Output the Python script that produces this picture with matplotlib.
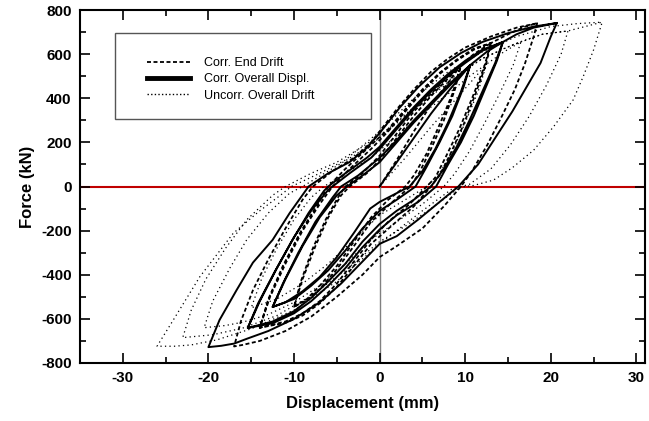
import numpy as np
import matplotlib
matplotlib.use("Agg")
import matplotlib.pyplot as plt
from matplotlib.lines import Line2D
from matplotlib.patches import Rectangle
from matplotlib.ticker import MultipleLocator

plt.rcParams['font.family'] = ['Liberation Sans', 'DejaVu Sans']
plt.rcParams['axes.unicode_minus'] = False

# ---------------- data (displacement mm, force kN) ----------------
series_labels = ["Corr. End Drift", "Corr. Overall Displ.", "Uncorr. Overall Drift"]

overall_pts = [
    (0, 0), (2, 110), (4, 220), (6, 330), (8, 430), (10.6, 551),
    (9.5, 430), (8, 290), (6.5, 170), (5, 70), (3.5, 0), (1.5, -40), (0, -70), (-1.1, -100),
    (-3, -210), (-5, -320), (-7, -410), (-9, -475), (-11, -525), (-12.5, -546),
    (-11, -420), (-9, -270), (-7, -140), (-5, -40), (-3.8, 0), (-2, 50), (0, 110), (2, 200),
    (4, 290), (6, 370), (8, 450), (10.6, 551),
    (9.8, 450), (8.5, 320), (7, 200), (5.5, 90), (4.2, 0), (2, -60), (0, -110), (-2, -190),
    (-4, -290), (-6, -380), (-8, -450), (-10, -510), (-12.5, -546),
    (-11.3, -440), (-9.5, -300), (-7.5, -160), (-5.5, -50), (-4.5, 0), (-2.5, 50), (0, 130),
    (2, 210), (4, 300), (6, 380), (8, 460), (10.6, 551), (12.5, 610), (14.4, 655),
    (13.5, 560), (12, 430), (10.5, 300), (9, 180), (7.5, 80), (6, 0), (4, -60), (2, -110),
    (0, -170), (-2, -250), (-4, -350), (-6, -430), (-8, -505), (-10, -565), (-12.5, -612),
    (-15.4, -641),
    (-14, -520), (-12, -370), (-10, -230), (-8, -110), (-6, -15), (-5.5, 0), (-3.5, 60),
    (-1, 130), (0, 170), (2, 260), (4, 350), (6, 430), (8, 500), (10, 560), (12, 615), (14.4, 655),
    (13.7, 570), (12.4, 450), (11, 320), (9.5, 200), (8, 100), (6.6, 0), (4.5, -70), (2, -130),
    (0, -195), (-2, -275), (-4, -370), (-6, -450), (-8, -520), (-10, -575), (-12.5, -620),
    (-15.4, -641),
    (-14.2, -530), (-12.3, -390), (-10.3, -250), (-8.3, -120), (-6.5, -20), (-6, 0), (-4, 60),
    (-1.5, 130), (0, 180), (2, 270), (4, 360), (6, 440), (8, 510), (10, 570), (12, 620),
    (14.4, 655), (16, 690), (18, 720), (20.7, 741),
    (20, 680), (18.8, 560), (17, 440), (15.5, 340), (13.5, 220), (11.5, 100), (9.2, 0), (7, -70),
    (4.5, -150), (2, -225), (0, -260), (-2, -340), (-4.5, -440), (-7, -525), (-10, -600),
    (-13, -655), (-15.5, -690), (-17, -712), (-18.5, -722), (-20, -728),
    (-18.7, -605), (-16.7, -469), (-14.8, -345), (-12.5, -242), (-10.5, -120), (-8.3, 0),
    (-6, 60), (-3.5, 111), (-1.5, 175), (0, 242), (2.4, 360), (4.5, 450), (7, 540), (9.5, 605),
    (12, 655), (15, 695), (18, 725), (20.7, 741),
]

end_drift_pts = [
    (0, 0), (2, 120), (4, 250), (6, 370), (8, 470), (9.5, 550),
    (8.5, 420), (7, 280), (5.5, 150), (4, 50), (3, 0), (1, -60), (-1, -140), (-3, -250),
    (-5, -360), (-7, -450), (-8.5, -510), (-10, -545),
    (-9, -420), (-7.5, -270), (-6, -140), (-4.5, -40), (-3.5, 0), (-1.5, 60), (0, 120),
    (2, 220), (4, 320), (6, 410), (8, 490), (9.5, 550),
    (8.8, 440), (7.5, 300), (6, 170), (4.6, 60), (3.6, 0), (1.5, -70), (-1, -160), (-3, -270),
    (-5, -375), (-7, -465), (-8.5, -515), (-10, -545),
    (-9.2, -430), (-7.8, -280), (-6.3, -150), (-4.8, -45), (-4, 0), (-2, 60), (0, 140),
    (2, 240), (4, 340), (6, 420), (8, 500), (9.5, 550), (11, 600), (13, 650),
    (12.2, 540), (10.8, 400), (9.3, 260), (7.8, 140), (6.5, 40), (5.5, 0), (3.5, -80),
    (1, -160), (-1, -240), (-3, -340), (-5, -440), (-7, -520), (-9, -575), (-11, -612), (-14, -640),
    (-12.8, -500), (-11, -350), (-9, -200), (-7, -80), (-5.5, 0), (-3.5, 80), (-1, 170),
    (1, 250), (3, 340), (5, 430), (7, 510), (9, 570), (11, 620), (13, 650),
    (12.4, 550), (11.2, 420), (9.8, 280), (8.3, 150), (7, 50), (6, 0), (4, -90), (1.5, -175),
    (-1, -260), (-3, -360), (-5, -455), (-7, -530), (-9, -585), (-11, -618), (-14, -640),
    (-13, -510), (-11.3, -360), (-9.3, -210), (-7.4, -90), (-6, 0), (-4, 80), (-1.5, 170),
    (1, 260), (3, 350), (5, 440), (7, 515), (9, 575), (11, 625), (13, 650),
    (15, 690), (17, 725), (18.4, 740),
    (18, 680), (17, 560), (15.8, 440), (14.3, 320), (12.6, 190), (10.8, 70), (9.5, 0),
    (7.5, -90), (5, -190), (2, -270), (0, -320), (-2, -400), (-5, -500), (-8, -590),
    (-11, -655), (-14, -700), (-16, -718), (-17, -725),
    (-16.2, -610), (-14.8, -470), (-13, -330), (-11, -190), (-9, -60), (-7.8, 0), (-5.5, 70),
    (-3, 130), (-1, 200), (0, 250), (2, 350), (4, 440), (6, 520), (8, 580), (10, 630),
    (13, 680), (16, 720), (18.4, 740),
]

uncorr_pts = [
    (0, 0), (3, 130), (6, 270), (9, 400), (12.5, 555),
    (11.5, 430), (10, 290), (8.5, 160), (7, 60), (5.5, 0), (3, -60), (0, -130), (-3, -240),
    (-6, -350), (-9, -440), (-12, -510), (-15, -550),
    (-13.8, -420), (-12, -280), (-10, -150), (-8, -50), (-6.5, 0), (-4, 60), (-1, 130),
    (2, 230), (5, 330), (8, 420), (10.5, 500), (12.5, 555), (14.5, 610), (16.5, 655),
    (15.6, 550), (14, 420), (12.3, 290), (10.5, 160), (8.8, 60), (7.5, 0), (5, -80), (2, -160),
    (-1, -240), (-4, -350), (-7, -450), (-10, -525), (-13, -580), (-16, -615), (-18, -630),
    (-20.5, -640),
    (-19.5, -520), (-17.5, -370), (-15.5, -240), (-13, -120), (-10.5, -30), (-9, 0), (-6, 70),
    (-3, 140), (0, 220), (3, 320), (6, 410), (9, 500), (12, 580), (14.5, 625), (16.5, 655),
    (19, 690), (22, 705),
    (21.2, 600), (19.5, 460), (17.5, 320), (15.3, 190), (13, 80), (10.5, 10), (9.5, 0),
    (6, -100), (3, -180), (0, -250), (-4, -380), (-8, -495), (-12, -585), (-16, -642),
    (-19.5, -672), (-23, -685),
    (-22, -560), (-20.3, -420), (-18, -280), (-15.5, -150), (-12.5, -40), (-11, 0), (-8, 60),
    (-5, 110), (-2, 180), (1, 260), (4, 360), (8, 480), (12, 580), (16, 650), (19, 690),
    (22, 705), (24, 725), (26, 745),
    (25, 620), (23.8, 500), (22.6, 392), (20.3, 270), (18, 165), (15.5, 85), (13.3, 29),
    (11, 5), (8.6, -7), (5, -110), (2, -200), (0, -260), (-5, -430), (-10, -560), (-15, -645),
    (-19, -695), (-22, -718), (-24, -724), (-26, -724),
    (-24.1, -605), (-21, -409), (-17.1, -212), (-14, -110), (-11.6, -40), (-10.3, 0), (-7, 60),
    (-4, 120), (0, 250), (4, 400), (8, 520), (12, 610), (16, 680), (20, 725), (23, 738),
    (26, 745),
]

x_ticks = [-30, -20, -10, 0, 10, 20, 30]
y_ticks = [-800, -600, -400, -200, 0, 200, 400, 600, 800]

# ---------------- figure ----------------
fig = plt.figure(figsize=(6.49, 4.21), dpi=100)
ax = fig.add_axes([80 / 649, 58 / 421, 565 / 649, 353 / 421])

ax.axhline(0, color="#c00000", lw=1.5, zorder=1)
ax.axvline(0, color="#808080", lw=1.0, zorder=1)

ux, uy = np.array(uncorr_pts).T
ex, ey = np.array(end_drift_pts).T
ox, oy = np.array(overall_pts).T

ax.plot(ux, uy, color="black", lw=0.9, linestyle=(0, (1, 2.6)), zorder=2)
ax.plot(ex, ey, color="black", lw=1.3, linestyle=(0, (2.2, 1.4)), zorder=3)
ax.plot(ox, oy, color="black", lw=1.4, linestyle="-", zorder=4)

ax.set_xlim(-35, 31)
ax.set_ylim(-800, 800)
ax.set_xticks(x_ticks)
ax.set_yticks(y_ticks)
ax.xaxis.set_minor_locator(MultipleLocator(5))
ax.yaxis.set_minor_locator(MultipleLocator(100))
ax.tick_params(which="both", direction="in", top=True, right=True,
               labeltop=False, labelright=False, width=1.2, color="black")
ax.tick_params(which="major", length=7, labelsize=11, pad=6)
ax.tick_params(which="minor", length=4)
for lab in ax.get_xticklabels() + ax.get_yticklabels():
    lab.set_fontweight("bold")
for s in ax.spines.values():
    s.set_linewidth(1.5)

ax.set_xlabel("Displacement (mm)", fontsize=12, fontweight="bold", labelpad=8)
ax.set_ylabel("Force (kN)", fontsize=12, fontweight="bold", labelpad=4)

# legend box
ax.add_patch(Rectangle((0.062, 0.691), 0.453, 0.244, transform=ax.transAxes,
                       fill=True, facecolor="white", edgecolor="#555555", lw=1.0, zorder=5))
handles = [
    Line2D([], [], color="black", lw=1.3, linestyle=(0, (2.2, 1.4))),
    Line2D([], [], color="black", lw=3.5, linestyle="-"),
    Line2D([], [], color="black", lw=1.0, linestyle=(0, (1, 1.6))),
]
leg = ax.legend(handles, series_labels, loc="upper left", bbox_to_anchor=(0.118, 0.867),
                frameon=False, fontsize=9, handlelength=3.5, handletextpad=1.1,
                labelspacing=0.35, borderpad=0, borderaxespad=0)
leg.set_zorder(6)

fig.savefig("out.png", dpi=100)
